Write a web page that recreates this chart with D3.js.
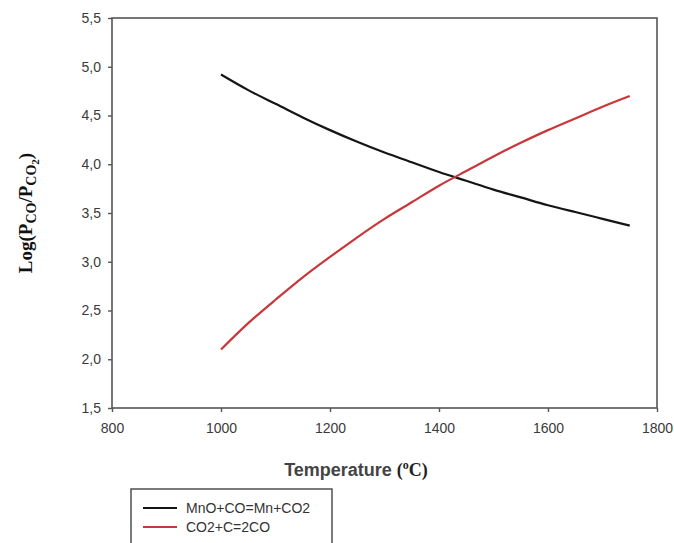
<!DOCTYPE html>
<html>
<head>
<meta charset="utf-8">
<script src="https://cdn.jsdelivr.net/npm/d3@7"></script>
<style>
  body { margin: 0; background: #fff; }
  svg { display: block; }
</style>
</head>
<body>
<script>
var width = 674
var height = 543
var margin = { top: 18, right: 17, bottom: 135, left: 112 }

// temperatures (oC)
var temps = [1000, 1050, 1100, 1150, 1200, 1250, 1300, 1350, 1400, 1450, 1500, 1550, 1600, 1650, 1700, 1750]
// MnO+CO=Mn+CO2
var mnoValues = [4.92, 4.76, 4.62, 4.48, 4.35, 4.23, 4.12, 4.02, 3.92, 3.83, 3.74, 3.66, 3.58, 3.51, 3.44, 3.37]
// CO2+C=2CO
var boudValues = [2.10, 2.37, 2.61, 2.84, 3.05, 3.25, 3.44, 3.61, 3.78, 3.93, 4.08, 4.22, 4.35, 4.47, 4.59, 4.70]

var xTicks = [800, 1000, 1200, 1400, 1600, 1800]
var yTicks = [1.5, 2.0, 2.5, 3.0, 3.5, 4.0, 4.5, 5.0, 5.5]
var seriesNames = ['MnO+CO=Mn+CO2', 'CO2+C=2CO']
var seriesColors = ['#151515', '#c8373a']

var svg = d3.select('body').append('svg')
  .attr('width', width)
  .attr('height', height)

var xScale = d3.scaleLinear()
  .domain([800, 1800])
  .range([margin.left, width - margin.right])

var yScale = d3.scaleLinear()
  .domain([1.5, 5.5])
  .range([height - margin.bottom, margin.top])

var axisColor = '#555'
var fmt = d3.format('.1f')

// frame
svg.append('rect')
  .attr('x', margin.left)
  .attr('y', margin.top)
  .attr('width', width - margin.right - margin.left)
  .attr('height', height - margin.bottom - margin.top)
  .attr('fill', 'none')
  .attr('stroke', axisColor)
  .attr('stroke-width', 1.6)

var xAxis = d3.axisBottom(xScale)
  .tickValues(xTicks)
  .tickSize(4)
  .tickPadding(11)
  .tickFormat(d3.format('d'))

var yAxis = d3.axisLeft(yScale)
  .tickValues(yTicks)
  .tickSize(4)
  .tickPadding(7)
  .tickFormat(d => fmt(d).replace('.', ','))

var gx = svg.append('g')
  .attr('transform', 'translate(' + [0, height - margin.bottom] + ')')
  .call(xAxis)

var gy = svg.append('g')
  .attr('transform', 'translate(' + [margin.left, 0] + ')')
  .call(yAxis)

;[gx, gy].forEach(g => {
  g.select('.domain').remove()
  g.selectAll('line').attr('stroke', axisColor).attr('stroke-width', 1.4)
  g.selectAll('text')
    .attr('fill', '#3a3a3a')
    .style('font-family', 'Liberation Sans, Arial, sans-serif')
    .style('font-size', '14px')
})

// curves
var line = d3.line()
  .x((d, i) => xScale(temps[i]))
  .y(d => yScale(d))
  .curve(d3.curveNatural)

;[mnoValues, boudValues].forEach((vals, i) => {
  svg.append('path')
    .attr('d', line(vals))
    .attr('fill', 'none')
    .attr('stroke', seriesColors[i])
    .attr('stroke-width', 2.2)
})

// axis titles
var xTitle = svg.append('text')
  .attr('x', 356)
  .attr('y', 476)
  .attr('text-anchor', 'middle')
  .attr('fill', '#444')
xTitle.append('tspan')
  .style('font-family', 'Liberation Sans, Arial, sans-serif')
  .style('font-size', '18px')
  .style('font-weight', 'bold')
  .text('Temperature ')
xTitle.append('tspan')
  .style('font-family', 'Liberation Serif, Times New Roman, serif')
  .style('font-size', '18px')
  .style('font-weight', 'bold')
  .attr('fill', '#222')
  .text('(')
xTitle.append('tspan')
  .style('font-family', 'Liberation Serif, Times New Roman, serif')
  .style('font-size', '12px')
  .style('font-weight', 'bold')
  .attr('fill', '#222')
  .attr('dy', -7)
  .text('o')
xTitle.append('tspan')
  .style('font-family', 'Liberation Serif, Times New Roman, serif')
  .style('font-size', '18px')
  .style('font-weight', 'bold')
  .attr('fill', '#222')
  .attr('dy', 7)
  .text('C)')

var yTitle = svg.append('text')
  .attr('transform', 'translate(32,' + yScale(3.5) + ') rotate(-90)')
  .attr('text-anchor', 'middle')
  .attr('fill', '#111')
  .style('font-family', 'Liberation Serif, Times New Roman, serif')
  .style('font-size', '19px')
  .style('font-weight', 'bold')
yTitle.append('tspan').text('Log(P')
yTitle.append('tspan').attr('dy', 4).style('font-size', '14px').text('CO')
yTitle.append('tspan').attr('dy', -4).text('/P')
yTitle.append('tspan').attr('dy', 4).style('font-size', '14px').text('CO')
yTitle.append('tspan').attr('dy', 3).style('font-size', '11px').text('2')
yTitle.append('tspan').attr('dy', -7).text(')')

// legend
var legend = svg.append('g')
svg.insert('rect', ':first-child')
  .attr('x', 131)
  .attr('y', 489)
  .attr('width', 201)
  .attr('height', 70)
  .attr('fill', '#fff')
  .attr('stroke', '#444')
  .attr('stroke-width', 1.4)

seriesNames.forEach((name, i) => {
  var y = 508 + i * 19
  legend.append('line')
    .attr('x1', 143).attr('x2', 177)
    .attr('y1', y).attr('y2', y)
    .attr('stroke', seriesColors[i])
    .attr('stroke-width', 2)
  legend.append('text')
    .attr('x', 186)
    .attr('y', y + 5)
    .attr('fill', '#333')
    .style('font-family', 'Liberation Sans, Arial, sans-serif')
    .style('font-size', '14px')
    .text(name)
})
</script>
</body>
</html>
